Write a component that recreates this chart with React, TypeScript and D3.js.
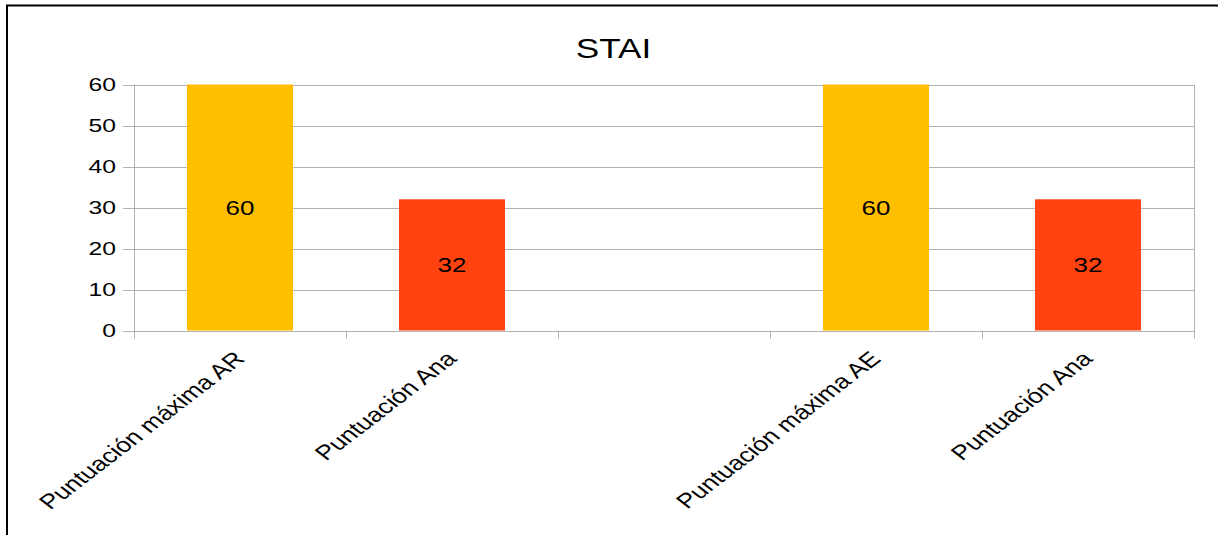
import React from "react";
import * as d3 from "d3";

const title = "STAI";
const categoryIds = ["c1", "c2", "c3", "c4", "c5"];
const categoryLabels = ["Puntuación máxima AR", "Puntuación Ana", "", "Puntuación máxima AE", "Puntuación Ana"];
const values: (number | null)[] = [60, 32, null, 60, 32];
const barColors = ["#FFBF00", "#FF420E", "#FFBF00", "#FFBF00", "#FF420E"];
const yTicks = [0, 10, 20, 30, 40, 50, 60];

const W = 1218;
const H = 535;
const left = 134;
const right = 1194;
const top = 84.5;
const bottom = 330.5;
const SX = 1.3;
const FONT = "'Liberation Sans', Arial, sans-serif";

export default function App() {
  const x = d3.scaleBand<string>().domain(categoryIds).range([left, right]).paddingInner(0.5).paddingOuter(0.25);
  const y = d3.scaleLinear().domain([0, 60]).range([bottom, top]);
  const step = x.step();
  const boundaries = d3.range(categoryIds.length + 1).map((i) => left + i * step);

  return (
    <svg width={W} height={H} style={{ position: "absolute", left: 0, top: 0, background: "#fff" }}>
      <rect x={7} y={5.5} width={1400} height={800} fill="#fff" stroke="#000" strokeWidth={2} />
      <text transform={`translate(${613.5},${58}) scale(${SX},1)`} textAnchor="middle" fontFamily={FONT} fontSize={27} fill="#000">
        {title}
      </text>
      {yTicks.map((t) => (
        <g key={t}>
          <line x1={123} x2={right} y1={Math.round(y(t)) + 0.5} y2={Math.round(y(t)) + 0.5} stroke="#b3b3b3" strokeWidth={1} />
          <text transform={`translate(${116},${y(t) + 6.8}) scale(${SX},1)`} textAnchor="end" fontFamily={FONT} fontSize={19} fill="#000">
            {t}
          </text>
        </g>
      ))}
      <line x1={left + 0.5} x2={left + 0.5} y1={top} y2={bottom + 8} stroke="#b3b3b3" />
      <line x1={right + 0.5} x2={right + 0.5} y1={top} y2={bottom + 8} stroke="#b3b3b3" />
      {boundaries.map((b, i) => (
        <line key={i} x1={Math.round(b) + 0.5} x2={Math.round(b) + 0.5} y1={bottom} y2={bottom + 8} stroke="#b3b3b3" />
      ))}
      {categoryIds.map((id, i) => {
        const v = values[i];
        if (v == null) return null;
        const x0 = x(id)!;
        return (
          <g key={id}>
            <rect x={x0} y={y(v)} width={x.bandwidth()} height={y(0) - y(v)} fill={barColors[i]} />
            <text
              transform={`translate(${x0 + x.bandwidth() / 2},${y(v / 2) + 7}) scale(${SX},1)`}
              textAnchor="middle"
              fontFamily={FONT}
              fontSize={20}
              fill="#000"
            >
              {v}
            </text>
          </g>
        );
      })}
      {categoryIds.map((id, i) => {
        const cx = x(id)! + x.bandwidth() / 2;
        if (!categoryLabels[i]) return null;
        return (
          <text
            key={id}
            transform={`translate(${cx + 6},${360}) scale(${SX},1) rotate(-45)`}
            textAnchor="end"
            fontFamily={FONT}
            fontSize={20.5}
            fill="#000"
          >
            {categoryLabels[i]}
          </text>
        );
      })}
    </svg>
  );
}
